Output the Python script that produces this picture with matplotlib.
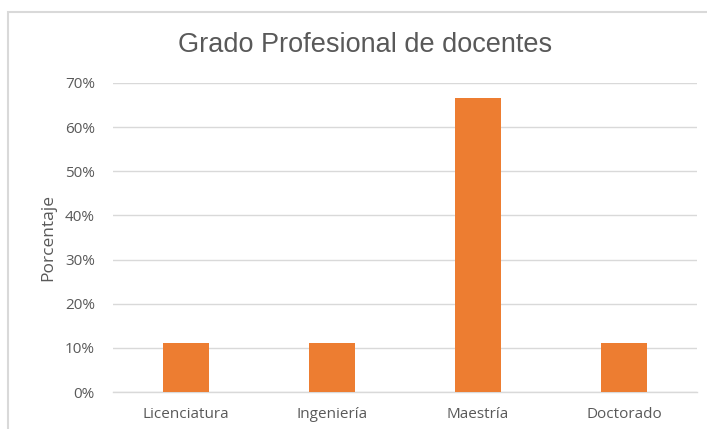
import matplotlib.pyplot as plt
from matplotlib.patches import Rectangle
from matplotlib.ticker import PercentFormatter

categories = ["Licenciatura", "Ingeniería", "Maestría", "Doctorado"]
values = [0.111, 0.111, 0.667, 0.111]
yticks = [0, 0.1, 0.2, 0.3, 0.4, 0.5, 0.6, 0.7]

bar_color = "#ED7D31"
grid_color = "#D9D9D9"
text_color = "#595959"

fig = plt.figure(figsize=(7.07, 4.29), dpi=100)

# chart area border (runs off right and bottom edges like the screenshot)
fig.patches.append(Rectangle((8 / 707, -0.1), 1.2, 1 - 12 / 429 + 0.1,
                             transform=fig.transFigure, fill=False,
                             edgecolor=grid_color, linewidth=1.5))

ax = fig.add_axes([113 / 707, 1 - 392 / 429, (697 - 113) / 707, (392 - 83) / 429])
x = range(len(categories))
ax.bar(x, values, width=0.31, color=bar_color, zorder=3)

ax.set_xlim(-0.5, 3.5)
ax.set_ylim(0, 0.7)
ax.set_yticks(yticks)
ax.yaxis.set_major_formatter(PercentFormatter(1.0, decimals=0))
ax.set_xticks(list(x))
ax.set_xticklabels(categories)

ax.grid(axis="y", color=grid_color, linewidth=1, zorder=0)
for s in ["top", "right", "left"]:
    ax.spines[s].set_visible(False)
ax.spines["bottom"].set_color(grid_color)
ax.spines["bottom"].set_linewidth(1)
ax.spines["bottom"].set_zorder(1)
ax.tick_params(axis="both", length=0, colors=text_color, labelsize=11)
ax.tick_params(axis="y", pad=13)
ax.tick_params(axis="x", pad=11)
for lab in ax.get_xticklabels() + ax.get_yticklabels():
    lab.set_fontfamily("Open Sans")

ax.set_ylabel("Porcentaje", color=text_color, fontsize=12.5, family="Open Sans", labelpad=6)

fig.text(365 / 707, 1 - 45 / 429, "Grado Profesional de docentes", ha="center", va="center",
         fontsize=19.5, color=text_color, family="Liberation Sans")

fig.savefig("out.png", dpi=100)
